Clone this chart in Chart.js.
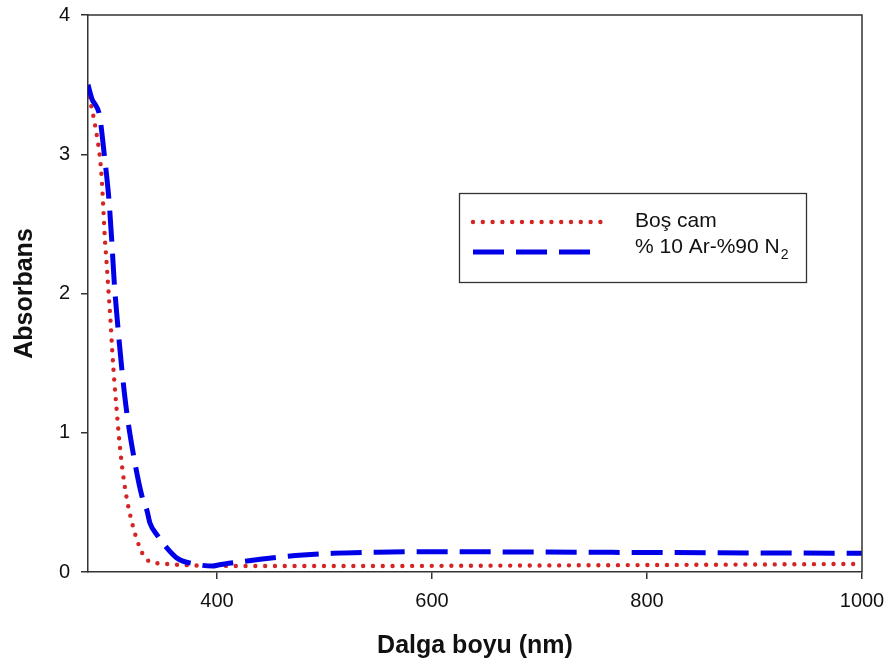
<!DOCTYPE html>
<html>
<head>
<meta charset="utf-8">
<script src="https://cdn.jsdelivr.net/npm/chart.js@4.4.1/dist/chart.umd.min.js"></script>
<style>
  html, body { margin: 0; padding: 0; background: #fff; }
  #wrap { width: 892px; height: 669px; position: relative; }
  canvas { display: block; }
</style>
</head>
<body>
<div id="wrap"><canvas id="c" width="892" height="669" style="width:892px;height:669px"></canvas></div>
<script>
// Absorbance spectra: bare glass vs. film grown in 10% Ar / 90% N2
const wavelengthBos = [280, 281.9, 285.6, 288.7, 291.2, 292.7, 294.2, 295.5, 297.4, 299.2, 301.1, 302.6, 304.5, 306.7, 309.1, 311.9, 316.0, 319.7, 324.7, 331.4, 338.3, 347, 357, 380, 400, 500, 600, 700, 800, 900, 1000];
const absBos        = [3.41, 3.38, 3.25, 3.11, 2.97, 2.83, 2.62, 2.42, 2.21, 2.00, 1.785, 1.58, 1.37, 1.16, 0.946, 0.746, 0.53, 0.394, 0.251, 0.122, 0.072, 0.062, 0.055, 0.047, 0.044, 0.043, 0.044, 0.047, 0.05, 0.054, 0.058];

const wavelengthAr = [280, 282, 284, 286.5, 290.7, 295.1, 299.3, 302.1, 304.4, 307.7, 311.3, 316.0, 322.1, 330.0, 334.9, 337.7, 344.8, 352.6, 362.8, 379.5, 396, 401, 421, 442, 459, 480, 508, 549, 590, 630, 700, 800, 900, 1000];
const absAr        = [3.50, 3.44, 3.39, 3.36, 3.28, 3.00, 2.69, 2.38, 2.08, 1.77, 1.47, 1.15, 0.85, 0.55, 0.44, 0.35, 0.26, 0.18, 0.10, 0.057, 0.043, 0.05, 0.072, 0.093, 0.108, 0.122, 0.134, 0.142, 0.145, 0.145, 0.143, 0.14, 0.137, 0.134];

const xTickValues = [400, 600, 800, 1000];
const yTickValues = [0, 1, 2, 3, 4];
const seriesLabels = ['Boş cam', '% 10 Ar-%90 N₂'];
const xTitle = 'Dalga boyu (nm)';
const yTitle = 'Absorbans';

const AXIS = '#333333';
const TEXT = '#111111';
const FONT = "'Liberation Sans', Arial, Helvetica, sans-serif";

const toPoints = (xs, ys) => xs.map((x, i) => ({ x, y: ys[i] }));

// Closes the frame (top/right) and draws the boxed key with a subscript
const frameAndKey = {
  id: 'frameAndKey',
  afterDatasetsDraw(chart) {
    const { ctx, chartArea: a } = chart;
    ctx.save();
    ctx.strokeStyle = AXIS;
    ctx.lineWidth = 1.5;
    ctx.setLineDash([]);
    ctx.beginPath();
    ctx.moveTo(a.left, a.top);
    ctx.lineTo(a.right, a.top);
    ctx.lineTo(a.right, a.bottom);
    ctx.stroke();

    // key box
    const bx = 459.5, by = 193.5, bw = 347, bh = 89;
    ctx.fillStyle = '#fff';
    ctx.fillRect(bx, by, bw, bh);
    ctx.lineWidth = 1.3;
    ctx.strokeStyle = AXIS;
    ctx.strokeRect(bx, by, bw, bh);

    const sampleY = [222, 252];
    const sampleEnd = [603, 590];
    const textBase = [227, 253];
    chart.data.datasets.forEach((ds, i) => {
      ctx.strokeStyle = ds.borderColor;
      ctx.lineWidth = ds.borderWidth;
      ctx.lineCap = ds.borderCapStyle;
      ctx.setLineDash(ds.borderDash);
      ctx.beginPath();
      ctx.moveTo(473, sampleY[i]);
      ctx.lineTo(sampleEnd[i], sampleY[i]);
      ctx.stroke();

      ctx.setLineDash([]);
      ctx.fillStyle = TEXT;
      ctx.textBaseline = 'alphabetic';
      ctx.textAlign = 'left';
      ctx.font = '21px ' + FONT;
      const label = ds.label;
      const k = label.indexOf('₂');
      if (k >= 0) {
        const main = label.slice(0, k);
        ctx.fillText(main, 635, textBase[i]);
        const w = ctx.measureText(main).width;
        ctx.font = '14px ' + FONT;
        ctx.fillText('2', 635 + w + 1, textBase[i] + 6);
      } else {
        ctx.fillText(label, 635, textBase[i]);
      }
    });
    ctx.restore();
  }
};

new Chart(document.getElementById('c'), {
  type: 'line',
  data: {
    datasets: [
      {
        label: seriesLabels[0],
        data: toPoints(wavelengthBos, absBos),
        borderColor: '#d42424',
        borderWidth: 4.4,
        borderDash: [0, 9.8],
        borderCapStyle: 'round',
        pointRadius: 0,
        cubicInterpolationMode: 'monotone',
        fill: false,
        order: 1
      },
      {
        label: seriesLabels[1],
        data: toPoints(wavelengthAr, absAr),
        borderColor: '#0000e8',
        borderWidth: 5,
        borderDash: [31, 12],
        borderCapStyle: 'butt',
        pointRadius: 0,
        cubicInterpolationMode: 'monotone',
        fill: false,
        order: 0
      }
    ]
  },
  options: {
    responsive: false,
    maintainAspectRatio: false,
    animation: false,
    devicePixelRatio: 1,
    layout: { padding: { top: 15, right: 30, left: 0, bottom: 0 } },
    plugins: { legend: { display: false }, tooltip: { enabled: false } },
    scales: {
      x: {
        type: 'linear',
        min: 280,
        max: 1000,
        afterBuildTicks: s => { s.ticks = xTickValues.map(v => ({ value: v })); },
        afterFit: s => { s.height = 97; s.paddingLeft = 0; s.paddingRight = 0; },
        ticks: { color: TEXT, font: { size: 20, family: FONT }, padding: 10, maxRotation: 0, autoSkip: false, callback: v => String(v) },
        grid: { drawOnChartArea: false, drawTicks: true, tickLength: 7, color: AXIS, lineWidth: 1.5 },
        border: { display: true, color: AXIS, width: 1.5 },
        title: { display: true, text: xTitle, color: TEXT, font: { size: 25, weight: 'bold', family: FONT }, padding: { top: 0, bottom: 8 } }
      },
      y: {
        type: 'linear',
        min: 0,
        max: 4,
        afterBuildTicks: s => { s.ticks = yTickValues.map(v => ({ value: v })); },
        afterFit: s => { s.width = 88; s.paddingTop = 0; s.paddingBottom = 0; },
        ticks: { color: TEXT, font: { size: 20, family: FONT }, padding: 11, autoSkip: false, callback: v => String(v) },
        grid: { drawOnChartArea: false, drawTicks: true, tickLength: 7, color: AXIS, lineWidth: 1.5 },
        border: { display: true, color: AXIS, width: 1.5 },
        title: { display: true, text: yTitle, color: TEXT, font: { size: 25, weight: 'bold', family: FONT }, padding: { top: 10, bottom: 0 } }
      }
    }
  },
  plugins: [frameAndKey]
});
</script>
</body>
</html>
